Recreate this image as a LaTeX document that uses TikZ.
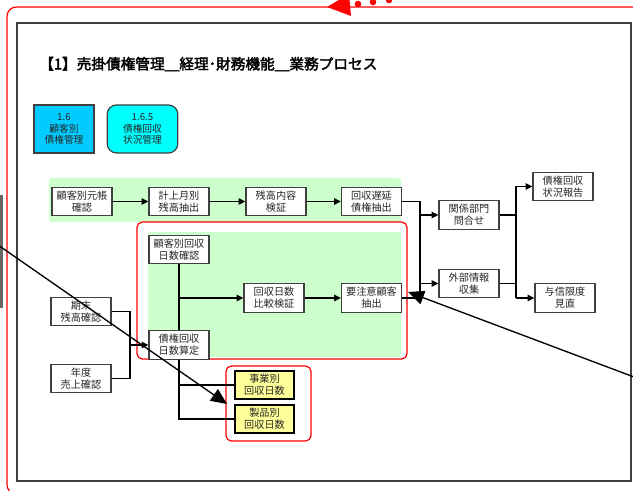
\documentclass[tikz,border=0pt]{standalone}
\usepackage{fontspec}
\setmainfont{Noto Sans CJK JP}
\newfontfamily\titlefont[FakeBold=2.5]{Noto Sans CJK JP}
\usetikzlibrary{arrows.meta}
\definecolor{green1}{HTML}{CCFFCC}
\definecolor{blue1}{HTML}{00CCFF}
\definecolor{cyan1}{HTML}{00FFFF}
\definecolor{yel1}{HTML}{FFFF99}
\definecolor{bordg}{HTML}{404040}
\definecolor{txtg}{HTML}{262626}
\definecolor{red1}{HTML}{FF0000}
\begin{document}
\begin{tikzpicture}[x=0.75pt,y=-0.75pt,
  pbox/.style={draw=bordg, line width=0.9pt, fill=white, minimum width=45pt, minimum height=21.5pt,
    inner sep=0pt, align=center, font=\fontsize{7.6}{9}\selectfont, text=txtg},
  ybox/.style={pbox, draw=black, line width=1.4pt, fill=yel1, minimum width=44pt, minimum height=20.5pt},
  topbox/.style={draw=bordg, line width=0.9pt, minimum height=36pt, inner sep=0pt, align=center,
    font=\fontsize{7.3}{8.7}\selectfont, text=txtg},
  ln/.style={line width=1.4pt, black},
  arr/.style={line width=1.4pt, black, -{Triangle[length=5pt,width=4.6pt]}},
  thinln/.style={line width=1pt, black},
  bigarr/.style={line width=1pt, black, -{Triangle[length=12pt,width=10.5pt]}},
  redbox/.style={draw=red1, line width=0.9pt, rounded corners=4pt}
]
\useasboundingbox (0,0) rectangle (633,491);
\clip (0,0) rectangle (633,491);

% outer red rounded frame and grey frame
\draw[red1, line width=0.9pt, rounded corners=7pt] (7,7) rectangle (660,494);
\draw[draw=bordg, line width=1.1pt] (17,23) rectangle (631,481);
\fill[black!60] (0,195) rectangle (3,308);

% red dotted arrow at the top
\fill[red1] (327,7) -- (349,-6) -- (351,16) -- cycle;
\fill[red1] (358,4) circle (3.3);
\fill[red1] (373,2) circle (3.3);
\fill[red1] (389,0) circle (3.3);

% title
\node[anchor=west, font=\fontsize{11}{13}\titlefont, inner sep=0pt] (title) at (39,64)
  {【1】売掛債権管理＿経理･財務機能＿業務プロセス};

% legend boxes
\node[topbox, fill=blue1, minimum width=45pt] (b16) at (64,129) {1.6\\顧客別\\債権管理};
\node[topbox, fill=cyan1, minimum width=53pt, rounded corners=7pt] (b165) at (142.5,129) {1.6.5\\債権回収\\状況管理};

% green areas and red groupings
\fill[green1, rounded corners=2pt] (49,178) rectangle (401,222);
\fill[green1, rounded corners=2pt] (148,232) rectangle (401,357);
\draw[redbox] (137,222) rectangle (407,359);
\draw[redbox] (226,366) rectangle (311,441);

% process boxes
\node[pbox] (A) at (82,201.5) {顧客別元帳\\確認};
\node[pbox] (B) at (179,201.5) {計上月別\\残高抽出};
\node[pbox] (C) at (276,201.5) {残高内容\\検証};
\node[pbox] (D) at (371.5,201.5) {回収遅延\\債権抽出};
\node[pbox] (E) at (469,215) {関係部門\\問合せ};
\node[pbox] (F) at (469,283.5) {外部情報\\収集};
\node[pbox] (G) at (563,186.5) {債権回収\\状況報告};
\node[pbox] (H) at (565,298) {与信限度\\見直};
\node[pbox] (I) at (179,249.5) {顧客別回収\\日数確認};
\node[pbox] (J) at (274,298) {回収日数\\比較検証};
\node[pbox] (K) at (371.5,298) {要注意顧客\\抽出};
\node[pbox] (L) at (81,311.5) {期末\\残高確認};
\node[pbox] (M) at (81,378.5) {年度\\売上確認};
\node[pbox] (N) at (179,345) {債権回収\\日数算定};
\node[ybox] (P) at (264.5,385) {事業別\\回収日数};
\node[ybox] (Q) at (264.5,419) {製品別\\回収日数};

% top row
\draw[arr] (A) -- (B);
\draw[arr] (B) -- (C);
\draw[arr] (C) -- (D);

% right side
\coordinate (v1t) at (420,201.5);
\coordinate (v1b) at (420,298);
\draw[ln] (D.east) -- (v1t) -- (v1b);
\draw[ln] (K.east) -- (v1b);
\draw[arr] (v1t |- E.west) -- (E.west);
\draw[arr] (v1t |- F.west) -- (F.west);

\coordinate (v2t) at (516,186.5);
\coordinate (v2b) at (516,298);
\draw[ln] (v2t) -- (v2b);
\draw[ln] (E.east) -- (v2t |- E.east);
\draw[ln] (F.east) -- (v2t |- F.east);
\draw[arr] (v2t) -- (G.west);
\draw[arr] (v2b) -- (H.west);

% inner group
\draw[ln] (I.south) -- (N.north);
\draw[arr] (I.south |- J.west) -- (J.west);
\draw[arr] (J) -- (K);

% left inputs
\coordinate (v3t) at (130,311.5);
\coordinate (v3b) at (130,378.5);
\draw[ln] (L.east) -- (v3t) -- (v3b) -- (M.east);
\draw[arr] (v3t |- N.west) -- (N.west);

% outputs to yellow boxes
\coordinate (v4b) at (N.south |- Q.west);
\draw[thinln] (N.south) -- (v4b) -- (Q.west);
\draw[thinln] (N.south |- P.west) -- (P.west);

% diagonal pointer arrows
\coordinate (d1s) at (-2,245);
\coordinate (d1e) at (227,404);
\draw[bigarr] (d1s) -- (d1e);
\coordinate (d2s) at (634,377);
\coordinate (d2e) at (408,292);
\draw[bigarr] (d2s) -- (d2e);
\end{tikzpicture}
\end{document}
